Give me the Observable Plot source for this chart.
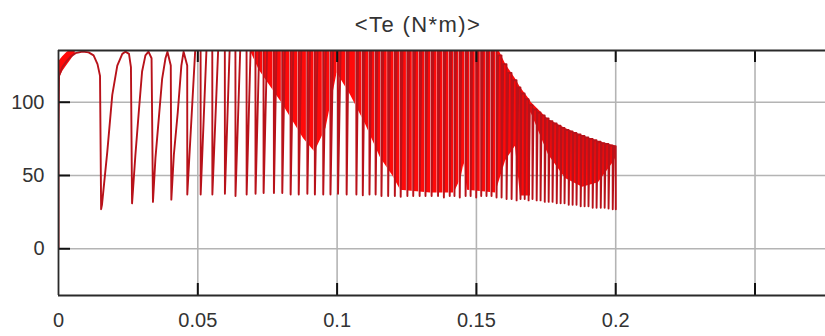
<!DOCTYPE html>
<html>
<head>
<meta charset="utf-8">
<script src="https://cdn.jsdelivr.net/npm/d3@7"></script>
<script src="https://cdn.jsdelivr.net/npm/@observablehq/plot@0.6"></script>
<style>
  html, body { margin: 0; padding: 0; background: #fff; }
  #wrap { position: relative; width: 825px; height: 336px; overflow: hidden; font-family: "Liberation Sans", Arial, sans-serif; }
  #title { position: absolute; top: 10px; left: 418px; transform: translateX(-50%); font-size: 22px; letter-spacing: 1.4px; color: #333; white-space: nowrap; line-height: 30px; }
  #chart { position: absolute; top: 40px; left: 0; }
</style>
</head>
<body>
<div id="wrap">
  <div id="title">&lt;Te (N*m)&gt;</div>
  <div id="chart"></div>
</div>
<script>
// ---- axis data ----
const xDomain = [0, 0.2753];
const yDomain = [-31.9, 135.3];
const xTicks = [0, 0.05, 0.1, 0.15, 0.2, 0.25];
const xTickLabels = ["0", "0.05", "0.1", "0.15", "0.2", ""];
const yTicks = [0, 50, 100];
const yTickLabels = ["0", "50", "100"];

// ---- start-up transient (explicit points) ----
const earlyT = [0, 0, 0.0002, 0.0014, 0.0029, 0.0043, 0.0061, 0.0086, 0.0108, 0.0126, 0.0140, 0.0149, 0.0153,
  0.0156, 0.0175, 0.0193, 0.0211, 0.0229, 0.0240, 0.0253, 0.0260, 0.0264,
  0.0276, 0.0288, 0.0300, 0.0312, 0.0323, 0.0334, 0.0339,
  0.0348, 0.0360, 0.0372, 0.0384, 0.0391, 0.0403, 0.0405,
  0.0414, 0.0428, 0.0441, 0.0449];
const earlyV = [0, 74, 118, 124, 128, 131, 133.5, 134.5, 134, 132, 126, 118, 27,
  30, 66, 105, 125, 133, 134.5, 133, 124, 31,
  64, 93, 121, 132, 134.5, 130, 32,
  62, 89, 116, 130, 134.5, 125, 33.5,
  64, 93, 125, 134.5];

// thick oscillation band right after start
const bandT  = [0.0002, 0.0015, 0.0030, 0.0045, 0.0060];
const bandLo = [116, 121, 125, 129, 133];
const bandHi = [128, 131, 134, 136, 136];

// ---- torque dips (time, upper level, trough, rise duration) ----
const spikeT = [0.0462, 0.0510, 0.0552, 0.0597, 0.0635, 0.0675, 0.0707, 0.0736,
  0.0773, 0.0803, 0.0833, 0.0862, 0.0893, 0.0920, 0.0950, 0.0976, 0.1003,
  0.1034, 0.1069, 0.1092, 0.1116, 0.1138, 0.1159, 0.1183, 0.1207, 0.1228, 0.1252, 0.1273, 0.1296, 0.1317, 0.1339,
  0.1362, 0.1383, 0.1404, 0.1421, 0.1440, 0.1461, 0.1479, 0.1499, 0.1517, 0.1536, 0.1554, 0.1572, 0.1590, 0.1608, 0.1626, 0.1644,
  0.1658, 0.1673, 0.1687, 0.1701, 0.1716, 0.1730, 0.1745, 0.1759, 0.1773, 0.1788, 0.1802, 0.1816, 0.1831, 0.1845, 0.1859, 0.1874, 0.1888, 0.1902, 0.1917, 0.1931, 0.1946, 0.1960, 0.1974, 0.1989, 0.2000];
const spikeHigh = [125, 140, 140, 140, 140, 140, 140, 140,
  140, 140, 140, 140, 140, 140, 140, 140, 140,
  140, 140, 140, 140, 140, 140, 140, 140, 140, 140, 140, 140, 140, 140,
  140, 140, 140, 140, 140, 140, 140, 140, 140, 140, 140, 140, 132, 126, 120, 115,
  110, 106, 102, 98, 95, 93, 91, 89, 87, 85.5, 84, 82.5, 81, 80, 79, 78, 77, 76, 75, 74, 73, 72, 71.5, 70.5, 70];
const spikeLow = [37, 37, 37, 37.5, 36, 37, 37.5, 38,
  38, 38, 37, 37, 37.5, 37, 37, 37, 37.5,
  37, 37, 36.5, 37, 37, 36, 36, 36, 35.5, 36, 36, 36, 36, 36,
  36, 35, 36, 36, 35, 36, 36, 35, 36, 36, 36, 35, 35, 34, 34, 33,
  34, 34, 33, 34, 33, 33, 32, 32, 32, 31, 31, 31, 30, 30, 30, 29, 29, 29, 28, 28, 28, 28, 27.5, 27, 27];
const spikeRise = [0.0030, 0.0022, 0.0022, 0.0018, 0.0018, 0.0015, 0.0014, 0.0013,
  0.0010, 0.0010, 0.0010, 0.0010, 0.0010, 0.0010, 0.0010, 0.0010, 0.0010,
  0.0007, 0.0007, 0.0007, 0.0007, 0.0007, 0.0007, 0.0007, 0.0007, 0.0007, 0.0007, 0.0007, 0.0007, 0.0007, 0.0007,
  0.0006, 0.0006, 0.0006, 0.0006, 0.0006, 0.0006, 0.0006, 0.0006, 0.0006, 0.0006, 0.0006, 0.0006, 0.0006, 0.0006, 0.0006, 0.0006,
  0.0004, 0.0004, 0.0004, 0.0004, 0.0004, 0.0004, 0.0004, 0.0004, 0.0004, 0.0004, 0.0004, 0.0004, 0.0004, 0.0004, 0.0004, 0.0004, 0.0004, 0.0004, 0.0004, 0.0004, 0.0004, 0.0004, 0.0004, 0.0004, 0];

// ---- dense oscillation region (filled envelope) ----
const fillT  = [0.0689, 0.0720, 0.0800, 0.0880, 0.0920, 0.0960, 0.1000, 0.1048, 0.1102, 0.1156, 0.1199, 0.1228,
  0.1335, 0.1420, 0.1445, 0.1455, 0.1468, 0.1569, 0.1605, 0.1640, 0.1658, 0.1694, 0.1696, 0.1759, 0.1820, 0.1881, 0.1938, 0.1992, 0.2000];
const fillLo = [135, 122, 100, 75, 66, 82, 120, 105, 85, 62, 50, 40,
  38, 38, 48, 58, 40, 38, 60, 70, 36, 36, 93, 64, 48, 42, 45, 59, 62];
const fillHi = [140, 140, 140, 140, 140, 140, 140, 140, 140, 140, 140, 140,
  140, 140, 140, 140, 140, 140, 126, 116, 110, 101, 100, 88, 82, 77, 73, 70.5, 70];

// ---- build tables from the arrays ----
const linePts = earlyT.map((t, i) => ({t, v: earlyV[i]}));
spikeT.forEach((t, i) => {
  linePts.push({t, v: spikeHigh[i]});
  linePts.push({t: t + 0.00003, v: spikeLow[i]});
  if (spikeRise[i] > 0) {
    const next = i + 1 < spikeHigh.length ? spikeHigh[i + 1] : spikeHigh[i];
    linePts.push({t: t + spikeRise[i], v: next});
  }
});
const band = bandT.map((t, i) => ({t, lo: bandLo[i], hi: bandHi[i]}));
const fill = fillT.map((t, i) => ({t, lo: fillLo[i], hi: fillHi[i]}));
// clipped peaks (signal above the top of the axes) leave thin empty columns before each dip
const gaps = spikeT.map((t, i) => ({t, lo: spikeLow[i], hi: spikeHigh[i]}))
  .filter((d) => d.hi > yDomain[1] && d.t > fillT[0]);

const yTickLen = (yDomain[1] - yDomain[0]) * 12 / 245;
const xTickLen = (xDomain[1] - xDomain[0]) * 12 / 767;

const gridColor = "#b4b4b4";
const frameColor = "#2a2a2a";

const chart = Plot.plot({
  width: 825,
  height: 296,
  marginTop: 10,
  marginBottom: 41,
  marginLeft: 58,
  marginRight: 0,
  style: {fontFamily: "'Liberation Sans', Arial, sans-serif", fontSize: "20px", color: "#333", background: "#fff"},
  x: {domain: xDomain, ticks: xTicks, tickFormat: (d) => xTickLabels[xTicks.indexOf(d)], tickSize: 0, tickPadding: 17, label: null},
  y: {domain: yDomain, ticks: yTicks, tickFormat: (d) => yTickLabels[yTicks.indexOf(d)], tickSize: 0, tickPadding: 14, label: null},
  marks: [
    Plot.ruleX(xTicks.slice(1), {stroke: gridColor, strokeWidth: 1.6}),
    Plot.ruleY(yTicks, {stroke: gridColor, strokeWidth: 1.6}),
    Plot.areaY(fill, {x: "t", y1: "lo", y2: "hi", fill: "#ff0a0a", clip: true}),
    Plot.areaY(band, {x: "t", y1: "lo", y2: "hi", fill: "#ff0a0a", clip: true}),
    Plot.ruleX(gaps, {x: (d) => d.t - 0.0003, y1: "lo", y2: yDomain[1], stroke: "#ffe8e8", strokeWidth: 1.1, clip: true}),
    Plot.line(linePts, {x: "t", y: "v", stroke: "#b8121a", strokeWidth: 1.9, clip: true}),
    // inward tick marks
    Plot.ruleX(xTicks.slice(1), {y1: yDomain[0], y2: yDomain[0] + yTickLen, stroke: "#111", strokeWidth: 2}),
    Plot.ruleX(xTicks.slice(1), {y1: yDomain[1], y2: yDomain[1] - yTickLen, stroke: "#111", strokeWidth: 2}),
    Plot.ruleY(yTicks, {x1: 0, x2: xTickLen, stroke: "#111", strokeWidth: 2}),
    // frame (top, bottom, left)
    Plot.ruleY(yDomain, {stroke: frameColor, strokeWidth: 2.2}),
    Plot.ruleX([0], {stroke: frameColor, strokeWidth: 1.8})
  ]
});
document.getElementById("chart").appendChild(chart);
</script>
</body>
</html>
